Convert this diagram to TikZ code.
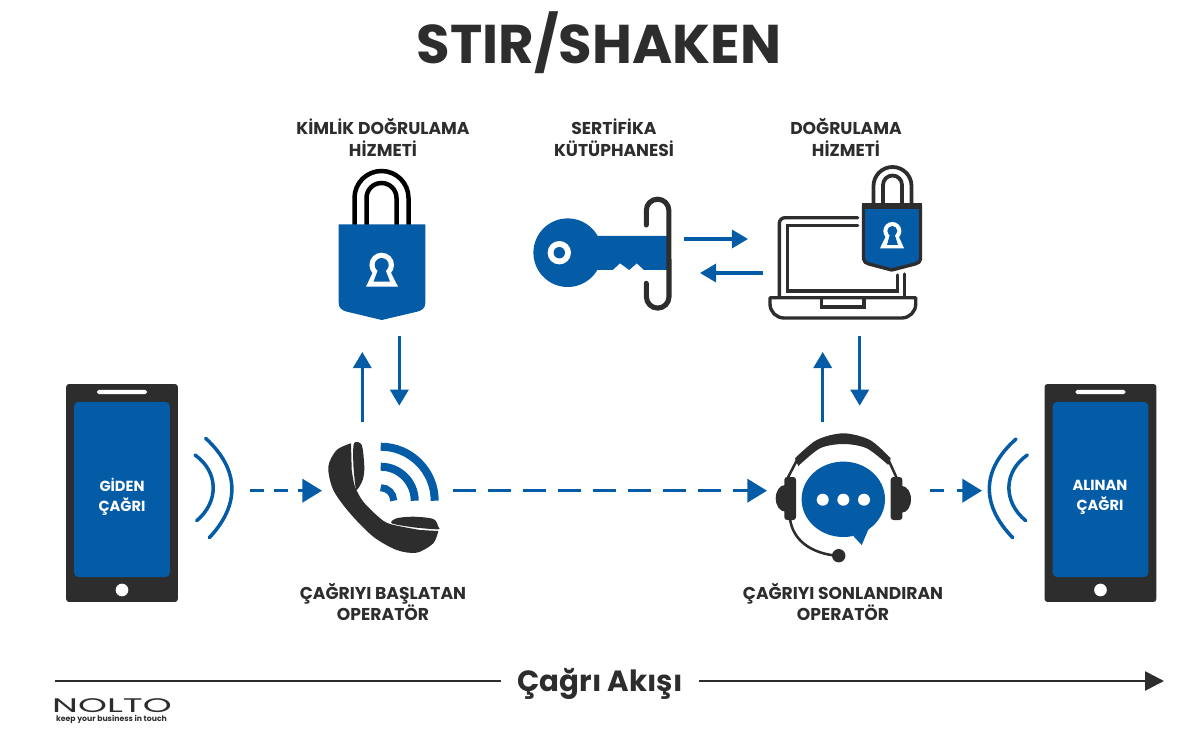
\documentclass[tikz,border=0pt]{standalone}
\usepackage{fontspec}
\setmainfont{Poppins}
\usetikzlibrary{arrows.meta}
\definecolor{blu}{HTML}{055CA6}
\definecolor{koyu}{HTML}{2D2D2D}

\begin{document}
\begin{tikzpicture}[x=0.025cm, y=0.025cm]
\tikzstyle{every node}+=[inner sep=0pt, text=koyu]
\tikzstyle{baslik}=[font=\fontsize{12.2}{15.6}\selectfont\bfseries, align=center]
\tikzstyle{ekranyazi}=[font=\fontsize{10.4}{14.2}\selectfont\bfseries, align=center, text=white]
\tikzstyle{telefon}=[fill=koyu, rounded corners=2pt, minimum width=79.4pt, minimum height=155pt]
\tikzstyle{ekran}=[fill=blu, rounded corners=3pt, minimum width=68pt, minimum height=124.5pt]
\tikzstyle{hoparlor}=[fill=white, rounded corners=1.2pt, minimum width=35.5pt, minimum height=3pt]
\tikzstyle{dalga}=[blu, line width=2.5pt, line cap=round]
\tikzstyle{ok}=[blu, line width=2.2pt, -{Triangle[length=11.5pt,width=13pt]}]
\tikzstyle{kesikok}=[blu, line width=2.4pt, -{Triangle[length=14pt,width=16.5pt]}]
\tikzstyle{koyucizgi}=[koyu, line width=2.4pt]
\useasboundingbox (0,0) rectangle (1200,-740);

\node [font=\fontsize{38.8}{41}\selectfont\bfseries] (stir) at (599,-43) {STIR/SHAKEN};

% telefonlar
\node [telefon] (giden) at (122,-493) {};
\node [ekran] (gidenekran) at (122,-489.5) {};
\node [hoparlor] (gidenhop) at (122,-392) {};
\node [circle, fill=white, minimum size=9pt] (gidentus) at (122,-590) {};
\node [ekranyazi] (gidenyazi) at (122,-497) {GİDEN\\ÇAĞRI};
\node [telefon] (alinan) at (1100.5,-493) {};
\node [ekran] (alinanekran) at (1100.5,-489.5) {};
\node [hoparlor] (alinanhop) at (1100.5,-392) {};
\node [circle, fill=white, minimum size=9pt] (alinantus) at (1100.5,-590) {};
\node [ekranyazi] (alinanyazi) at (1100,-497.5) {ALINAN\\ÇAĞRI};

% dalgalar
\draw [dalga] (205.7,-438.3) .. controls (240,-470) and (240,-505) .. (209.3,-537.7);
\draw [dalga] (195,-455) .. controls (219,-472) and (219,-502) .. (196.7,-520.7);
\draw [dalga] (1016,-439) .. controls (981,-470) and (981,-505) .. (1012.7,-537.7);
\draw [dalga] (1027.3,-455) .. controls (1003,-472) and (1003,-502) .. (1025.7,-520.7);

% kilit
\draw [black, line width=3.2pt] (354.5,-225) -- (354.5,-198) arc (180:0:27) -- (408.5,-225);
\draw [black, line width=3.2pt] (366.5,-225) -- (366.5,-198) arc (180:0:15) -- (396.5,-225);
\fill [blu] (338.7,-224.3) -- (425.3,-224.3) -- (425.3,-303) .. controls (425.3,-308) and (422,-310.5) .. (417,-311.7) -- (381.7,-320) -- (347,-311.7) .. controls (342,-310.5) and (338.7,-308) .. (338.7,-303) -- cycle;
\fill [white] (381.7,-265) circle (12.3);
\fill [white] (373,-272) -- (366,-286.7) -- (398,-286.7) -- (390.5,-272) -- cycle;
\fill [blu] (381.7,-265) circle (7);
\fill [blu] (378.7,-268) -- (373.5,-281.7) -- (390,-281.7) -- (384.7,-268) -- cycle;

% anahtar
\fill [blu] (567.7,-252.7) circle (34.3);
\fill [blu] (590,-236) -- (667,-236) -- (667,-270) -- (644,-270) -- (636.7,-263.3) -- (629.3,-270) -- (620,-263.3) -- (612.7,-270) -- (590,-270) -- cycle;
\fill [white] (559.3,-252.7) circle (11.7);
\fill [blu] (559.3,-252.7) circle (5.7);
\draw [koyu, line width=3.6pt, line cap=round] (646.3,-225) -- (646.3,-210.5) arc (180:0:11.3) -- (669,-296.8) arc (0:-180:11.3) -- (646.3,-283.3);

% dizustu
\draw [koyucizgi, line cap=round] (857.7,-217.7) -- (785,-217.7) arc (90:180:5.7) -- (779.3,-296);
\draw [koyucizgi, line cap=round] (857.7,-225.7) -- (787.3,-225.7) -- (787.3,-291) -- (897.7,-291) -- (897.7,-275);
\draw [koyucizgi, line cap=round] (904.7,-274) -- (904.7,-296);
\draw [koyucizgi, line join=round] (770,-297.7) -- (915.7,-297.7) -- (915.7,-304) arc (0:-90:14) -- (784,-318) arc (270:180:14) -- cycle;
\draw [koyucizgi] (821.7,-298) -- (821.7,-307) -- (864,-307) -- (864,-298);

% kucuk kilit
\draw [koyu, line width=2.7pt] (873.5,-205) -- (873.5,-186) arc (180:0:19) -- (911.5,-205);
\draw [koyu, line width=2.7pt] (883,-205) -- (883,-185) arc (180:0:9.5) -- (902,-205);
\draw [koyu, fill=blu, line width=2.4pt, line join=round] (863.5,-205) -- (920.5,-205) -- (920.5,-259) .. controls (920.5,-262) and (918,-263) .. (915,-264) -- (891.7,-270) -- (869,-264) .. controls (866,-263) and (863.5,-262) .. (863.5,-259) -- cycle;
\fill [koyu] (861.7,-203.3) rectangle (922.3,-209);
\fill [white] (892.3,-231) circle (9);
\fill [white] (886,-236) -- (880,-248.3) -- (904,-248.3) -- (898.5,-236) -- cycle;
\fill [blu] (892.3,-231) circle (5);
\fill [blu] (890,-234) -- (887,-245) -- (898,-245) -- (894.5,-234) -- cycle;

% ahize
\fill [koyu] plot [smooth] coordinates {(351,-443.3) (336.7,-450) (328.3,-466.7) (333.3,-490) (350,-513.3) (373.3,-536.7) (396.7,-550) (416.7,-552.7) (433.3,-543.3) (438.3,-531)} -- plot [smooth] coordinates {(420,-530) (390,-524) (378.3,-516.7) (363.3,-501.7) (355,-486.7) (351.7,-470)} -- cycle;
\fill [koyu] plot [smooth cycle] coordinates {(354,-443.3) (361.7,-445) (364.3,-466.7) (362.7,-480) (356.7,-490) (355,-483) (353.3,-463)};
\fill [koyu] plot [smooth cycle] coordinates {(391.7,-523.3) (396.7,-518.3) (413.3,-516.7) (433.3,-519) (438.3,-526.7) (437.7,-529.3) (413.3,-527.3)};
\draw [blu, line width=5.7pt] (380.7,-446.7) arc (90:0:54);
\draw [blu, line width=5.7pt] (380.7,-466.7) arc (90:0:34);
\draw [blu, line width=5pt] (380.7,-487.7) arc (90:0:13);

% kulaklik
\fill [koyu] plot [smooth] coordinates {(795,-458.3) (816.7,-440) (843.3,-433.3) (870,-440) (890.7,-458.3)} -- plot [smooth] coordinates {(888.3,-465) (866.7,-448.3) (843.3,-444) (820,-448.3) (798.3,-466)} -- cycle;
\draw [koyu, line width=1.8pt] (797,-460) -- (787.7,-478);
\draw [koyu, line width=1.8pt] (888.5,-460) -- (896.7,-478);
\fill [koyu, rounded corners=2pt] (784.3,-477) rectangle (796,-520);
\fill [koyu, rounded corners=2pt] (890.7,-477) rectangle (902.3,-520);
\fill [koyu] (785,-485) arc (90:270:9.3 and 13.3) -- cycle;
\fill [koyu] (902,-486) arc (90:-90:9 and 13.3) -- cycle;
\draw [koyu, line width=1.8pt] (790,-519) .. controls (793,-540) and (810,-552) .. (833,-555.3);
\fill [koyu] (838.7,-555.7) circle (6.7);
\fill [blu] (843.3,-499.3) ellipse (41.7 and 37.7);
\fill [blu] (853.3,-536) -- (861.7,-545) -- (869,-528) -- cycle;
\foreach \x in {822.7,843.3,864} {
  \fill [white] (\x,-499.7) circle (6);
}

% basliklar
\node [baslik] (kimlik) at (383,-137.5) {KİMLİK DOĞRULAMA\\HİZMETİ};
\node [baslik] (sertifika) at (614,-137.5) {SERTİFİKA\\KÜTÜPHANESİ};
\node [baslik] (dogrulama) at (846,-137.5) {DOĞRULAMA\\HİZMETİ};
\node [baslik] (baslatan) at (383,-602) {ÇAĞRIYI BAŞLATAN\\OPERATÖR};
\node [baslik] (sonlandiran) at (843,-602) {ÇAĞRIYI SONLANDIRAN\\OPERATÖR};

% oklar
\coordinate (a1) at (362.3,-422);
\coordinate (a2) at (362.3,-352);
\coordinate (a3) at (399.3,-336);
\coordinate (a4) at (399.3,-405.7);
\coordinate (b1) at (822.7,-422);
\coordinate (b2) at (822.7,-352);
\coordinate (b3) at (859.7,-336);
\coordinate (b4) at (859.7,-405.7);
\coordinate (c1) at (684,-239);
\coordinate (c2) at (748,-239);
\coordinate (c3) at (763,-273);
\coordinate (c4) at (700,-273);
\coordinate (d1) at (250,-490.7);
\coordinate (d2) at (322,-490.7);
\coordinate (d3) at (453.3,-490.7);
\coordinate (d4) at (767,-490.7);
\coordinate (d5) at (930,-490.7);
\coordinate (d6) at (982,-490.7);
\draw [ok] (a1) -- (a2);
\draw [ok] (a3) -- (a4);
\draw [ok] (b1) -- (b2);
\draw [ok] (b3) -- (b4);
\draw [ok] (c1) -- (c2);
\draw [ok] (c3) -- (c4);
\draw [kesikok, dash pattern=on 10pt off 7pt] (d1) -- (d2);
\draw [kesikok, dash pattern=on 15.8pt off 9.1pt] (d3) -- (d4);
\draw [kesikok, dash pattern=on 10pt off 9pt] (d5) -- (d6);

% cagri akisi
\node [font=\fontsize{20.8}{22}\selectfont\bfseries, text height=14.5pt, text depth=0pt, inner xsep=11.4pt] (akis) at (600,-681) {Çağrı Akışı};
\coordinate (e1) at (55,-681);
\coordinate (e2) at (1164,-681);
\draw [koyu, line width=1.9pt] (e1) -- (akis);
\draw [koyu, line width=1.9pt, -{Triangle[length=13.5pt,width=13.5pt]}] (akis) -- (e2);

% logo
\node [font=\fontsize{14}{14}\selectfont, xscale=1.87] (nolto) at (112,-705.5) {NOLTO};
\node [font=\fontsize{5.5}{5.5}\selectfont\bfseries] (slogan) at (111.5,-719.5) {keep your business in touch};
\end{tikzpicture}
\end{document}
